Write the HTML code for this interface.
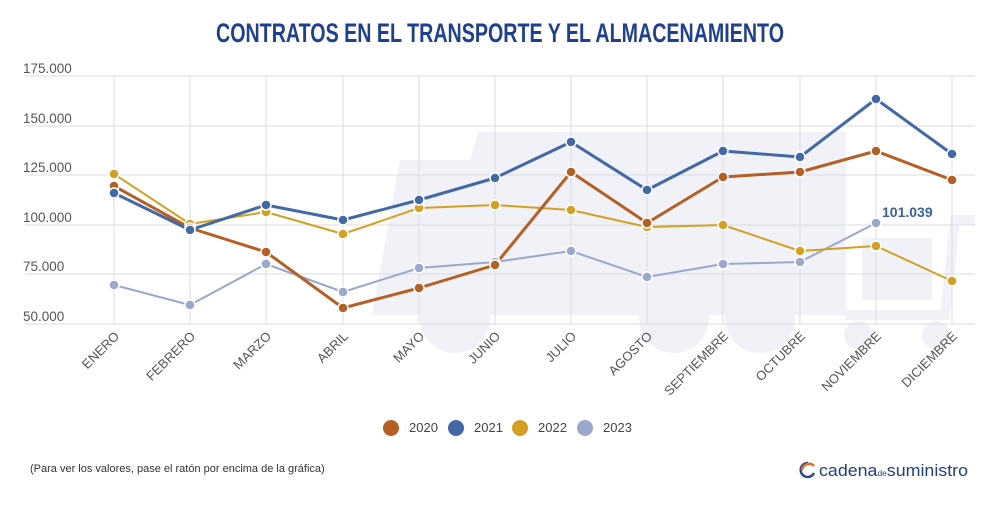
<!DOCTYPE html>
<html><head><meta charset="utf-8"><style>
body{margin:0;width:1000px;height:500px;background:#fff;overflow:hidden;font-family:"Liberation Sans",sans-serif}
</style></head><body>
<svg width="1000" height="500" xmlns="http://www.w3.org/2000/svg" font-family="Liberation Sans, sans-serif">
<text x="216" y="42" textLength="568" lengthAdjust="spacingAndGlyphs" font-weight="bold" font-size="27" fill="#1f3f95">CONTRATOS EN EL TRANSPORTE Y EL ALMACENAMIENTO</text>
<!-- watermark -->
<g fill="#f1f2f8">
<path d="M400 160 L372 315 L846 315 L846 132 L478 132 L470 160 Z"/>
<circle cx="674" cy="318" r="35"/><circle cx="760" cy="318" r="35"/><circle cx="455" cy="318" r="35"/>
<rect x="862" y="238" width="70" height="62"/>
<path d="M845 315 L945 315 L955 220 L975 220" stroke="#f1f2f8" stroke-width="10" fill="none"/>
<circle cx="858" cy="335" r="14"/><circle cx="936" cy="335" r="14"/>
</g>
<g stroke="#dcdce2" stroke-width="1">
<line x1="25" y1="76" x2="975" y2="76"/><line x1="25" y1="126" x2="975" y2="126"/><line x1="25" y1="175" x2="975" y2="175"/><line x1="25" y1="225" x2="975" y2="225"/><line x1="25" y1="274" x2="975" y2="274"/><line x1="25" y1="324" x2="975" y2="324"/>
<line x1="114" y1="76" x2="114" y2="324"/><line x1="190" y1="76" x2="190" y2="324"/><line x1="266" y1="76" x2="266" y2="324"/><line x1="343" y1="76" x2="343" y2="324"/><line x1="419" y1="76" x2="419" y2="324"/><line x1="495" y1="76" x2="495" y2="324"/><line x1="571" y1="76" x2="571" y2="324"/><line x1="647" y1="76" x2="647" y2="324"/><line x1="723" y1="76" x2="723" y2="324"/><line x1="800" y1="76" x2="800" y2="324"/><line x1="876" y1="76" x2="876" y2="324"/><line x1="952" y1="76" x2="952" y2="324"/>
</g>
<g font-size="13.5" fill="#555">
<text x="23" y="73">175.000</text><text x="23" y="123">150.000</text><text x="23" y="172">125.000</text><text x="23" y="222">100.000</text><text x="23" y="271">75.000</text><text x="23" y="321">50.000</text>
</g>
<g font-size="13" fill="#555" text-anchor="end">
<text transform="translate(120,337) rotate(-45)">ENERO</text>
<text transform="translate(196,337) rotate(-45)">FEBRERO</text>
<text transform="translate(272,337) rotate(-45)">MARZO</text>
<text transform="translate(349,337) rotate(-45)">ABRIL</text>
<text transform="translate(425,337) rotate(-45)">MAYO</text>
<text transform="translate(501,337) rotate(-45)">JUNIO</text>
<text transform="translate(577,337) rotate(-45)">JULIO</text>
<text transform="translate(653,337) rotate(-45)">AGOSTO</text>
<text transform="translate(729,337) rotate(-45)">SEPTIEMBRE</text>
<text transform="translate(806,337) rotate(-45)">OCTUBRE</text>
<text transform="translate(882,337) rotate(-45)">NOVIEMBRE</text>
<text transform="translate(958,337) rotate(-45)">DICIEMBRE</text>
</g>
<g fill="none" stroke-linejoin="round">
<polyline stroke="#9aa8cc" stroke-width="2" points="114,285 190,305 266,264 343,292 419,268 495,262 571,251 647,277 723,264 800,262 876,223"/>
<polyline stroke="#d4a020" stroke-width="2" points="114,174 190,224 266,212 343,234 419,208 495,205 571,210 647,227 723,225 800,251 876,246 952,281"/>
<polyline stroke="#b65f22" stroke-width="3" points="114,186 190,228 266,252 343,308 419,288 495,265 571,172 647,223 723,177 800,172 876,151 952,180"/>
<polyline stroke="#4169a6" stroke-width="3" points="114,193 190,230 266,205 343,220 419,200 495,178 571,142 647,190 723,151 800,157 876,99 952,154"/>
</g>
<g stroke="#fff" stroke-width="1.5">
<g fill="#9aa8cc"><circle cx="114" cy="285" r="5"/><circle cx="190" cy="305" r="5"/><circle cx="266" cy="264" r="5"/><circle cx="343" cy="292" r="5"/><circle cx="419" cy="268" r="5"/><circle cx="495" cy="262" r="5"/><circle cx="571" cy="251" r="5"/><circle cx="647" cy="277" r="5"/><circle cx="723" cy="264" r="5"/><circle cx="800" cy="262" r="5"/><circle cx="876" cy="223" r="5"/></g>
<g fill="#d4a020"><circle cx="114" cy="174" r="5"/><circle cx="190" cy="224" r="5"/><circle cx="266" cy="212" r="5"/><circle cx="343" cy="234" r="5"/><circle cx="419" cy="208" r="5"/><circle cx="495" cy="205" r="5"/><circle cx="571" cy="210" r="5"/><circle cx="647" cy="227" r="5"/><circle cx="723" cy="225" r="5"/><circle cx="800" cy="251" r="5"/><circle cx="876" cy="246" r="5"/><circle cx="952" cy="281" r="5"/></g>
<g fill="#b65f22"><circle cx="114" cy="186" r="5"/><circle cx="190" cy="228" r="5"/><circle cx="266" cy="252" r="5"/><circle cx="343" cy="308" r="5"/><circle cx="419" cy="288" r="5"/><circle cx="495" cy="265" r="5"/><circle cx="571" cy="172" r="5"/><circle cx="647" cy="223" r="5"/><circle cx="723" cy="177" r="5"/><circle cx="800" cy="172" r="5"/><circle cx="876" cy="151" r="5"/><circle cx="952" cy="180" r="5"/></g>
<g fill="#4169a6"><circle cx="114" cy="193" r="5"/><circle cx="190" cy="230" r="5"/><circle cx="266" cy="205" r="5"/><circle cx="343" cy="220" r="5"/><circle cx="419" cy="200" r="5"/><circle cx="495" cy="178" r="5"/><circle cx="571" cy="142" r="5"/><circle cx="647" cy="190" r="5"/><circle cx="723" cy="151" r="5"/><circle cx="800" cy="157" r="5"/><circle cx="876" cy="99" r="5"/><circle cx="952" cy="154" r="5"/></g>
</g>
<text x="882" y="217" font-size="14" font-weight="bold" fill="#3a62a0">101.039</text>
<g font-size="13" fill="#444">
<circle cx="391" cy="428" r="8" fill="#b65f22"/><text x="409" y="432">2020</text>
<circle cx="456" cy="428" r="8" fill="#4169a6"/><text x="474" y="432">2021</text>
<circle cx="520" cy="428" r="8" fill="#d4a020"/><text x="538" y="432">2022</text>
<circle cx="585" cy="428" r="8" fill="#9aa8cc"/><text x="603" y="432">2023</text>
</g>
<text x="30" y="472" font-size="11" fill="#333">(Para ver los valores, pase el ratón por encima de la gráfica)</text>
<path d="M808 463 a7 7 0 1 0 6 10" stroke="#2a4a8a" stroke-width="2.5" fill="none"/>
<path d="M802 470 a7 7 0 0 1 12 -4" stroke="#e07020" stroke-width="2.5" fill="none"/>
<text x="819" y="476" font-size="17" fill="#1f3f80" textLength="149" lengthAdjust="spacingAndGlyphs">cadena<tspan font-size="8">de</tspan>suministro</text>
</svg>
</body></html>
